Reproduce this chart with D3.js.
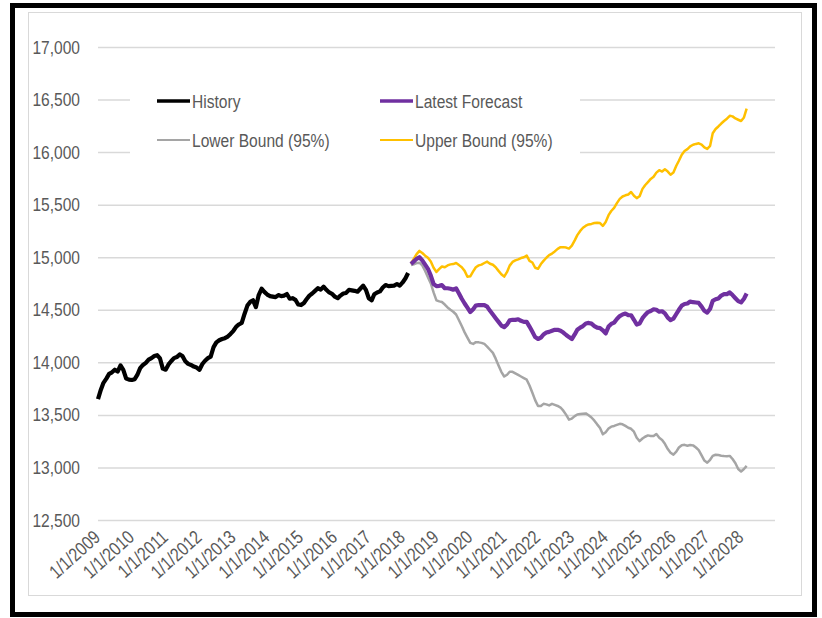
<!DOCTYPE html>
<html>
<head>
<meta charset="utf-8">
<script src="https://cdn.jsdelivr.net/npm/d3@7"></script>
<style>
  body { margin: 0; background: #fff; }
  text { font-family: 'Liberation Sans', Arial, sans-serif; fill: #595959; }
</style>
</head>
<body>
<div id="chart"></div>
<script>
// monthly values, history starts 1/1/2009, forecast starts 4/1/2018
var historyStart = new Date(2009, 0, 1),
    forecastStart = new Date(2018, 3, 1);

var historyValues = [13650, 13740, 13805, 13845, 13890, 13905, 13930, 13912, 13970, 13928, 13845, 13836,
  13832, 13840, 13880, 13945, 13975, 13995, 14025, 14040, 14060, 14068, 14037, 13940,
  13930, 13980, 14010, 14040, 14050, 14075, 14060, 14010, 13985, 13975, 13960, 13950,
  13930, 13984, 14015, 14040, 14055, 14145, 14190, 14210, 14222, 14230, 14245, 14270,
  14300, 14340, 14360, 14375, 14460, 14540, 14575, 14590, 14525, 14640, 14700, 14670,
  14645, 14630, 14625, 14620, 14640, 14630, 14635, 14650, 14605, 14610, 14595, 14550,
  14545, 14565, 14600, 14635, 14655, 14680, 14705, 14692, 14720, 14690, 14665, 14652,
  14625, 14610, 14635, 14655, 14660, 14690, 14685, 14680, 14672, 14700, 14730, 14690,
  14610, 14590, 14648, 14665, 14675, 14712, 14735, 14725, 14728, 14730, 14745, 14730,
  14760, 14800, 14850];

var forecast = [14935, 14960, 14985, 15000, 14970, 14930, 14890, 14825, 14745, 14725, 14728, 14735,
  14705, 14705, 14700, 14691, 14704, 14655, 14605, 14560, 14520, 14478, 14505, 14540,
  14545, 14545, 14545, 14530, 14490, 14455, 14420, 14385, 14350, 14335, 14360, 14400,
  14404, 14404, 14410, 14395, 14385, 14385, 14340, 14290, 14240, 14222, 14235, 14265,
  14283, 14290, 14300, 14309, 14309, 14300, 14283, 14260, 14240, 14222, 14265, 14310,
  14330, 14345, 14370, 14375, 14368, 14345, 14330, 14326, 14305, 14275, 14340, 14365,
  14378, 14412, 14440, 14455, 14464, 14450, 14448, 14405, 14360, 14370, 14420, 14450,
  14478, 14488, 14505, 14500, 14482, 14486, 14466, 14425, 14402, 14415, 14460, 14500,
  14540, 14555, 14560, 14578, 14572, 14569, 14565, 14530, 14490, 14473, 14510, 14585,
  14600, 14608, 14635, 14648, 14649, 14665, 14640, 14610, 14582, 14570, 14605, 14655];

var lowerBound = [14925, 14933, 14945, 14948, 14922, 14870, 14810, 14750, 14665, 14590, 14580, 14574,
  14550, 14522, 14500, 14481, 14455, 14400, 14345, 14285, 14235, 14185, 14175, 14192,
  14190, 14185, 14175, 14150, 14120, 14090, 14035, 13970, 13910, 13865, 13882, 13910,
  13910, 13895, 13880, 13865, 13850, 13835, 13780, 13710, 13640, 13585, 13585, 13605,
  13600, 13590, 13605, 13595, 13585, 13570, 13540, 13500, 13455, 13465, 13488, 13504,
  13508, 13511, 13514, 13497, 13475, 13445, 13410, 13376, 13315, 13335, 13370, 13388,
  13395, 13405, 13415, 13410, 13395, 13378, 13368, 13340, 13282, 13250, 13275, 13292,
  13305, 13300, 13298, 13318, 13282, 13262, 13225, 13175, 13140, 13122, 13150, 13190,
  13212, 13215, 13207, 13213, 13210, 13190, 13165, 13115, 13065, 13045, 13073, 13110,
  13121, 13118, 13112, 13108, 13106, 13110, 13080, 13040, 12985, 12962, 12985, 13015];

var upperBound = [14940, 14985, 15030, 15060, 15040, 15015, 14995, 14959, 14900, 14860, 14889, 14912,
  14904, 14922, 14932, 14935, 14945, 14925, 14904, 14870, 14815, 14818, 14865, 14905,
  14922, 14930, 14945, 14958, 14938, 14928, 14905, 14870, 14838, 14815, 14860, 14920,
  14955, 14970, 14980, 14992, 15000, 15015, 14965, 14950, 14900, 14890, 14935, 14965,
  14995, 15020, 15035, 15055, 15080, 15096, 15096, 15092, 15082, 15110, 15160, 15210,
  15250, 15280, 15300, 15312, 15317, 15325, 15327, 15325, 15298, 15335, 15400, 15440,
  15470, 15515, 15555, 15578, 15589, 15597, 15620, 15585, 15562, 15580, 15650, 15685,
  15715, 15745, 15765, 15805, 15828, 15815, 15836, 15815, 15785, 15805, 15870, 15918,
  15975, 16010, 16028, 16055, 16070, 16078, 16084, 16072, 16045, 16030, 16060, 16180,
  16220, 16244, 16272, 16296, 16318, 16345, 16340, 16320, 16308, 16296, 16330, 16414];

var yTicks = [12500, 13000, 13500, 14000, 14500, 15000, 15500, 16000, 16500, 17000];
var xTickYears = d3.range(2009, 2029);

var legendItems = [
  { name: 'History', color: '#000000', width: 3.5 },
  { name: 'Latest Forecast', color: '#7030A0', width: 3.5 },
  { name: 'Lower Bound (95%)', color: '#A5A5A5', width: 2.2 },
  { name: 'Upper Bound (95%)', color: '#FFC000', width: 2.2 }
];

var width = 822,
    height = 618,
    narrow = 'scale(0.82,1)';   // no Arial Narrow installed, squeeze Liberation Sans instead

var svg = d3.select('#chart').append('svg')
    .attr('width', width)
    .attr('height', height);

//frames
svg.append('rect')
    .attr('x', 12.5).attr('y', 5.5)
    .attr('width', 802).attr('height', 609)
    .attr('fill', 'none')
    .attr('stroke', '#000')
    .attr('stroke-width', 5);

svg.append('rect')
    .attr('x', 28.5).attr('y', 12.5)
    .attr('width', 773).attr('height', 583)
    .attr('fill', '#fff')
    .attr('stroke', '#D9D9D9')
    .attr('stroke-width', 1);

//scales
var x = d3.scaleTime()
    .domain([historyStart, new Date(2029, 0, 1)])
    .range([98, 775]);

var y = d3.scaleLinear()
    .domain([12500, 17000])
    .range([520, 47]);

//gridlines + y axis
var yAxis = d3.axisLeft(y)
    .tickValues(yTicks)
    .tickSize(-(775 - 98))
    .tickFormat(d3.format(','));

var yg = svg.append('g')
    .attr('transform', 'translate(98,0)')
    .call(yAxis);
yg.select('.domain').remove();
yg.selectAll('.tick line')
    .attr('stroke', '#D9D9D9')
    .attr('stroke-width', 1.5);
yg.selectAll('.tick text')
    .style('font-size', '19px')
    .attr('fill', '#595959')
    .attr('x', 0)
    .attr('transform', 'translate(-18,0) ' + narrow);

//x axis labels
var xAxis = d3.axisBottom(x)
    .tickValues(xTickYears.map(function(yr) { return new Date(yr, 0, 1); }))
    .tickSize(0)
    .tickFormat(function(d) { return '1/1/' + d.getFullYear(); });

var xg = svg.append('g')
    .attr('transform', 'translate(0,520)')
    .call(xAxis);
xg.select('.domain').remove();
xg.selectAll('.tick text')
    .style('font-size', '19px')
    .attr('fill', '#595959')
    .attr('text-anchor', 'end')
    .attr('dy', null)
    .attr('y', 0)
    .attr('transform', 'translate(3,19) rotate(-42) ' + narrow);

//lines
var line = d3.line()
    .x(function(d) { return x(d.date); })
    .y(function(d) { return y(d.value); });

function toSeries(values, start) {
  return values.map(function(v, i) { return { date: d3.timeMonth.offset(start, i), value: v }; });
}

var series = [
  { data: toSeries(upperBound, forecastStart), color: '#FFC000', width: 2.5 },
  { data: toSeries(lowerBound, forecastStart), color: '#A5A5A5', width: 2.5 },
  { data: toSeries(forecast, forecastStart), color: '#7030A0', width: 4.2 },
  { data: toSeries(historyValues, historyStart), color: '#000000', width: 4.2 }
];

svg.selectAll('.series')
    .data(series)
  .enter().append('path')
    .attr('class', 'series')
    .attr('d', function(d) { return line(d.data); })
    .attr('fill', 'none')
    .attr('stroke', function(d) { return d.color; })
    .attr('stroke-width', function(d) { return d.width; })
    .attr('stroke-linejoin', 'round');

//legend
svg.append('rect')
    .attr('x', 130).attr('y', 80)
    .attr('width', 450).attr('height', 80)
    .attr('fill', '#fff');

var legend = svg.selectAll('.legend')
    .data(legendItems)
  .enter().append('g')
    .attr('class', 'legend')
    .attr('transform', function(d, i) {
      return 'translate(' + (157 + (i % 2) * 223) + ',' + (101 + Math.floor(i / 2) * 39) + ')';
    });

legend.append('line')
    .attr('x1', 0).attr('x2', 33)
    .attr('stroke', function(d) { return d.color; })
    .attr('stroke-width', function(d) { return d.width; });

legend.append('text')
    .attr('transform', 'translate(35,0) ' + narrow)
    .attr('dy', '0.35em')
    .style('font-size', '19px')
    .text(function(d) { return d.name; });
</script>
</body>
</html>
